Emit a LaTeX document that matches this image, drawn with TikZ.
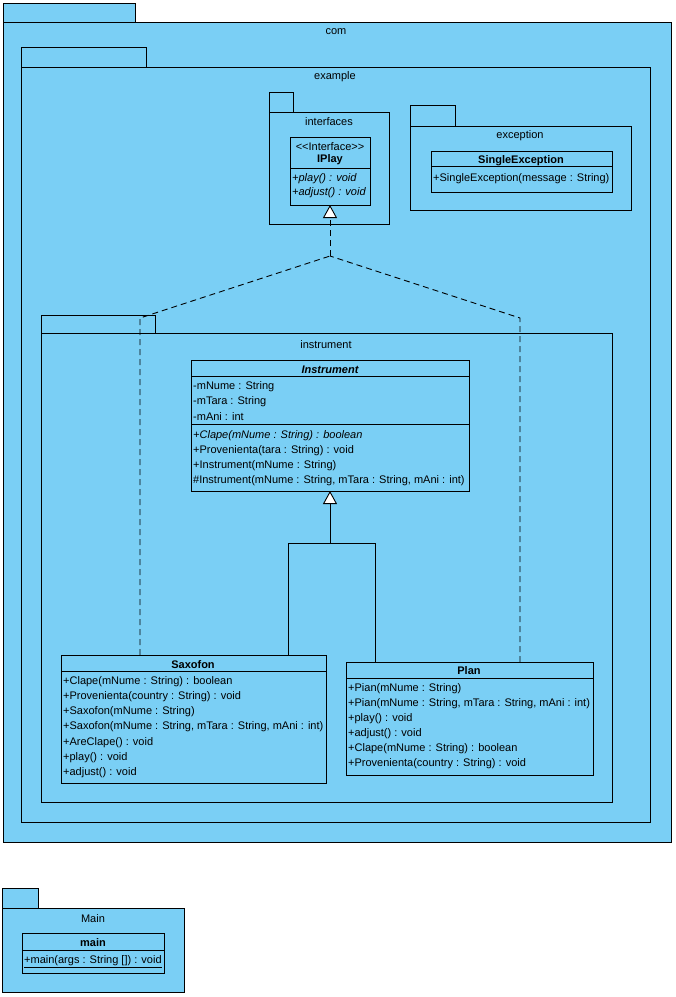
\documentclass[tikz,border=0pt]{standalone}
\usepackage{fontspec}
\setmainfont{Liberation Sans}
\usetikzlibrary{arrows.meta}
\definecolor{pkgfill}{RGB}{122,207,245}
\tikzset{
  box/.style={draw=black, fill=pkgfill, line width=0.9pt, inner sep=0pt, outer sep=0pt, anchor=north west},
  sep/.style={draw=black, line width=0.9pt},
  lbl/.style={inner sep=0pt, yshift=-1.5pt, font=\fontsize{11}{12}\selectfont},
  mem/.style={lbl, anchor=west},
  cname/.style={lbl, font=\fontsize{11}{12}\selectfont\bfseries},
  conn/.style={draw=black, line width=0.9pt},
  realize/.style={conn, dash pattern=on 6pt off 4pt},
  gentip/.style={-{Triangle[width=14pt,length=13pt,fill=white]}},
}
\begin{document}
\begin{tikzpicture}[x=1pt,y=-1pt]
\useasboundingbox[fill=white] (0,0) rectangle (676,997);

% ---- packages ----
\node[box, minimum width=132, minimum height=19] (comtab) at (3,3) {};
\node[box, minimum width=668, minimum height=820] (com) at (3,22) {};
\node[lbl] (comlbl) at (336,30) {com};

\node[box, minimum width=125, minimum height=20] (extab) at (21,47) {};
\node[box, minimum width=629, minimum height=755] (ex) at (21,67) {};
\node[lbl] (exlbl) at (335,75) {example};

\node[box, minimum width=24, minimum height=20] (iftab) at (269,92) {};
\node[box, minimum width=120, minimum height=112] (if) at (269,112) {};
\node[lbl] (iflbl) at (329,120) {interfaces};

\node[box, minimum width=45, minimum height=21] (exctab) at (410,105) {};
\node[box, minimum width=221, minimum height=84] (exc) at (410,126) {};
\node[lbl] (exclbl) at (520,134) {exception};

\node[box, minimum width=114, minimum height=18] (insttab) at (41,315) {};
\node[box, minimum width=571, minimum height=469] (instp) at (41,333) {};
\node[lbl] (instlbl) at (326,343) {instrument};

\node[box, minimum width=36, minimum height=20] (maintab) at (2,888) {};
\node[box, minimum width=182, minimum height=84] (mainp) at (2,908) {};
\node[lbl] (mainlbl) at (93,917) {Main};

% ---- IPlay ----
\node[box, minimum width=80, minimum height=68] (iplay) at (290,137) {};
\draw[sep] (290,168) -- (370,168);
\node[lbl] (ipst) at (330,145) {<\kern0pt<Interface>\kern0pt>};
\node[cname] (ipname) at (330,158) {IPlay};
\node[mem] (ip1) at (292,177) {\itshape +play() : void};
\node[mem] (ip2) at (292,191) {\itshape +adjust() : void};

% ---- SingleException ----
\node[box, minimum width=181, minimum height=41] (sexc) at (431,151) {};
\draw[sep] (431,166) -- (612,166);
\node[cname] (sename) at (521,159) {SingleException};
\node[mem] (se1) at (433,177) {+SingleException(message : String)};

% ---- Instrument ----
\node[box, minimum width=278, minimum height=131] (inst) at (191,360) {};
\draw[sep] (191,376) -- (469,376);
\draw[sep] (191,424) -- (469,424);
\node[cname] (inname) at (330,368) {\itshape Instrument};
\node[mem] (in1) at (193,385) {-mNume : String};
\node[mem] (in2) at (193,400) {-mTara : String};
\node[mem] (in3) at (193,415) {-mAni : int};
\node[mem] (in4) at (193,434) {\itshape +Clape(mNume : String) : boolean};
\node[mem] (in5) at (193,449) {+Provenienta(tara : String) : void};
\node[mem] (in6) at (193,464) {+Instrument(mNume : String)};
\node[mem] (in7) at (193,479) {\#Instrument(mNume : String, mTara : String, mAni : int)};

% ---- Saxofon ----
\node[box, minimum width=265, minimum height=128] (sax) at (61,655) {};
\draw[sep] (61,671) -- (326,671);
\node[cname] (saxname) at (193,663) {Saxofon};
\node[mem] (sx1) at (63,680) {+Clape(mNume : String) : boolean};
\node[mem] (sx2) at (63,695) {+Provenienta(country : String) : void};
\node[mem] (sx3) at (63,710) {+Saxofon(mNume : String)};
\node[mem] (sx4) at (63,725) {+Saxofon(mNume : String, mTara : String, mAni : int)};
\node[mem] (sx5) at (63,741) {+AreClape() : void};
\node[mem] (sx6) at (63,756) {+play() : void};
\node[mem] (sx7) at (63,771) {+adjust() : void};

% ---- Plan ----
\node[box, minimum width=247, minimum height=113] (plan) at (346,662) {};
\draw[sep] (346,678) -- (593,678);
\node[cname] (planname) at (469,669) {Plan};
\node[mem] (pl1) at (348,687) {+Pian(mNume : String)};
\node[mem] (pl2) at (348,702) {+Pian(mNume : String, mTara : String, mAni : int)};
\node[mem] (pl3) at (348,717) {+play() : void};
\node[mem] (pl4) at (348,732) {+adjust() : void};
\node[mem] (pl5) at (348,747) {+Clape(mNume : String) : boolean};
\node[mem] (pl6) at (348,762) {+Provenienta(country : String) : void};

% ---- main ----
\node[box, minimum width=142, minimum height=40] (mainc) at (22,933) {};
\draw[sep] (22,950) -- (164,950);
\node[cname] (mainname) at (93,941) {main};
\node[mem] (mn1) at (24,960) {\underline{+main(args : String []) : void}};

% ---- realization (dashed) ----
\coordinate (jn) at (330,256);
\coordinate (lb) at (140,318);
\coordinate (rb) at (520,318);
\draw[realize] (sax.north -| lb) -- (lb) -- (jn);
\draw[realize] (plan.north -| rb) -- (rb) -- (jn);
\draw[realize, gentip] (jn) -- (iplay.south);

% ---- generalization ----
\coordinate (gj) at (330,543);
\coordinate (gl) at (288,543);
\coordinate (gr) at (375,543);
\draw[conn] (sax.north -| gl) -- (gl) -- (gr) -- (plan.north -| gr);
\draw[conn, gentip] (gj) -- (inst.south);
\end{tikzpicture}
\end{document}
